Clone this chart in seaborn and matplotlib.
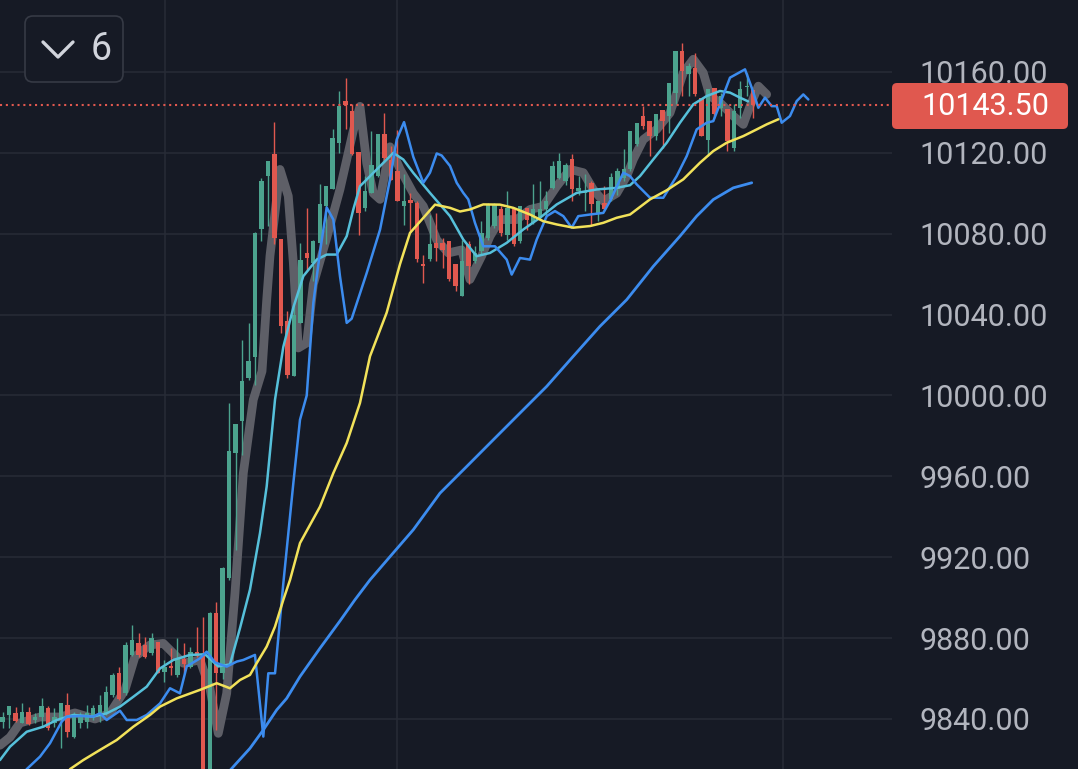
import matplotlib.pyplot as plt
import seaborn as sns
import pandas as pd
from matplotlib.patches import FancyBboxPatch
from matplotlib.lines import Line2D
from matplotlib.transforms import IdentityTransform

# ---- candles, one per bar index (0..116) ----
opens = [9838.7, 9842.0, 9843.1, 9838.2, 9843.6, 9839.5, 9840.8, 9845.3, 9837.9, 9840.3,
         9846.9, 9831.3, 9837.9, 9838.7, 9841.0, 9842.8, 9842.8, 9851.9, 9862.6, 9852.7,
         9871.7, 9877.8, 9876.6, 9872.5, 9878.3, 9863.4, 9866.2, 9861.8, 9869.5, 9865.6,
         9873.3, 9871.7, 9806.0, 9892.3, 9862.6, 9909.6, 9971.5, 9987.2, 10008.6, 10019.0,
         10082.1, 10108.5, 10119.6, 10077.5, 10036.7, 10009.5, 10035.9, 10070.6, 10065.6, 10075.5,
         10093.7, 10101.9, 10125.0, 10145.5, 10140.6, 10120.3, 10092.8, 10100.2, 10108.4, 10129.1,
         10116.7, 10110.9, 10093.6, 10096.9, 10095.3, 10064.8, 10067.3, 10075.5, 10075.5, 10076.3,
         10064.8, 10049.1, 10074.7, 10066.4, 10071.4, 10078.0, 10083.8, 10092.0, 10079.6, 10092.0,
         10076.3, 10092.8, 10085.4, 10087.9, 10092.0, 10102.7, 10107.7, 10106.0, 10116.8, 10101.1,
         10100.2, 10105.2, 10090.3, 10095.3, 10097.0, 10102.0, 10107.7, 10111.8, 10124.2, 10138.2,
         10135.7, 10128.3, 10141.2, 10138.2, 10149.7, 10170.4, 10158.8, 10162.1, 10147.3, 10126.6,
         10152.2, 10142.1, 10141.5, 10122.5, 10142.3, 10152.4, 10150.9]
highs = [9843.6, 9846.4, 9845.8, 9847.7, 9846.1, 9843.0, 9850.2, 9846.4, 9845.3, 9847.7,
         9852.7, 9843.6, 9843.6, 9846.9, 9847.0, 9851.9, 9856.3, 9862.6, 9865.9, 9878.3,
         9886.5, 9882.4, 9880.7, 9882.4, 9878.3, 9869.2, 9875.0, 9879.9, 9877.5, 9875.8,
         9885.7, 9890.6, 9893.0, 9898.1, 9915.0, 9996.2, 9986.0, 10027.6, 10035.9, 10081.0,
         10107.7, 10115.9, 10135.4, 10077.5, 10041.7, 10045.0, 10075.5, 10092.8, 10077.0, 10104.4,
         10103.5, 10132.0, 10150.6, 10157.0, 10144.0, 10120.3, 10108.4, 10130.7, 10129.1, 10139.8,
         10123.3, 10131.5, 10109.3, 10100.0, 10096.0, 10069.7, 10089.5, 10090.3, 10078.0, 10076.3,
         10064.8, 10077.1, 10076.3, 10073.8, 10086.2, 10095.3, 10095.3, 10093.6, 10101.0, 10092.8,
         10093.6, 10092.8, 10104.4, 10106.0, 10101.0, 10116.0, 10120.0, 10115.0, 10119.2, 10108.5,
         10109.3, 10106.0, 10096.1, 10103.5, 10110.0, 10112.5, 10121.7, 10131.0, 10135.0, 10143.1,
         10135.7, 10139.0, 10141.2, 10154.7, 10170.4, 10174.5, 10164.6, 10169.5, 10147.3, 10151.4,
         10152.2, 10149.7, 10141.5, 10144.0, 10155.5, 10159.6, 10150.9]
lows = [9835.4, 9835.4, 9838.7, 9837.8, 9837.0, 9838.0, 9836.2, 9834.6, 9836.2, 9825.5,
        9831.3, 9830.4, 9835.4, 9835.4, 9839.5, 9838.7, 9842.0, 9851.0, 9849.4, 9851.9,
        9871.2, 9870.9, 9870.0, 9871.7, 9862.6, 9858.5, 9861.8, 9861.0, 9862.6, 9865.1,
        9870.5, 9795.0, 9795.0, 9834.6, 9860.0, 9908.8, 9923.6, 9970.7, 10007.8, 10005.0,
        10076.3, 10083.7, 10074.7, 10030.9, 10008.7, 10009.5, 10035.9, 10062.3, 10056.5, 10073.8,
        10074.7, 10101.9, 10120.0, 10132.0, 10119.0, 10079.6, 10091.1, 10100.2, 10108.0, 10116.7,
        10106.8, 10096.1, 10084.5, 10081.3, 10066.0, 10055.7, 10066.4, 10066.4, 10063.1, 10056.6,
        10051.6, 10049.1, 10054.9, 10065.6, 10069.7, 10077.1, 10082.9, 10078.8, 10077.1, 10073.8,
        10075.5, 10082.0, 10084.6, 10087.0, 10087.9, 10101.9, 10106.9, 10104.0, 10096.1, 10099.4,
        10091.2, 10083.8, 10086.2, 10091.0, 10096.0, 10099.0, 10106.0, 10111.0, 10123.4, 10131.6,
        10118.4, 10126.6, 10122.5, 10130.0, 10144.0, 10148.1, 10148.1, 10148.1, 10128.3, 10118.4,
        10137.4, 10138.2, 10120.9, 10120.9, 10137.4, 10148.1, 10137.4]
closes = [9841.2, 9846.4, 9839.2, 9843.5, 9837.5, 9841.1, 9846.4, 9835.4, 9841.2, 9847.7,
          9833.7, 9841.2, 9841.2, 9842.8, 9845.3, 9846.9, 9853.5, 9861.8, 9849.7, 9876.6,
          9879.1, 9871.7, 9870.9, 9879.9, 9862.9, 9865.6, 9865.1, 9869.5, 9867.2, 9873.3,
          9871.2, 9805.0, 9892.3, 9862.6, 9914.6, 9972.3, 9986.0, 10007.0, 10017.2, 10080.4,
          10106.0, 10115.9, 10078.0, 10034.3, 10010.3, 10040.0, 10067.2, 10068.1, 10076.3, 10094.5,
          10103.5, 10127.5, 10143.2, 10143.5, 10119.2, 10090.3, 10101.0, 10114.2, 10129.1, 10117.5,
          10106.8, 10096.1, 10096.1, 10095.3, 10067.3, 10064.0, 10074.7, 10073.0, 10072.2, 10057.4,
          10054.1, 10066.4, 10064.0, 10070.5, 10080.4, 10094.5, 10094.5, 10080.4, 10092.8, 10074.7,
          10093.6, 10087.0, 10092.0, 10092.0, 10096.1, 10113.5, 10115.9, 10114.0, 10101.9, 10102.7,
          10101.1, 10094.5, 10096.1, 10092.0, 10108.0, 10111.0, 10111.8, 10130.8, 10134.9, 10133.2,
          10128.3, 10139.0, 10135.7, 10154.7, 10170.4, 10160.5, 10162.9, 10148.9, 10128.3, 10151.4,
          10139.0, 10148.1, 10125.8, 10140.7, 10151.4, 10153.2, 10143.5]

last_price = 10143.50

# ---- indicator lines: (bar index, price) ----
gray_pts = [(-0.42, 9827), (1.13, 9831), (2.67, 9838), (5.77, 9841), (8.86, 9841), (11.17, 9843),
            (14.27, 9840), (16.58, 9842.8), (18.9, 9854.4), (20.45, 9870.9), (22.77, 9876.6),
            (24.82, 9877.4), (27.91, 9867.6), (30.49, 9869.2), (32.04, 9855), (33.32, 9832.9),
            (34.62, 9852.7), (35.9, 9902.2), (37.19, 9961.6), (38.73, 9997.9), (40.08, 10012),
            (40.8, 10047), (41.31, 10069), (42.86, 10111.8), (44.14, 10098.6), (44.92, 10065.6),
            (45.69, 10023.5), (46.99, 10026), (48.01, 10055), (50.08, 10078), (52.13, 10102),
            (54.19, 10131), (55.22, 10143), (56.26, 10115), (57.28, 10100), (58.32, 10097),
            (59.86, 10123), (61.41, 10112), (63.46, 10100), (65.01, 10093.6), (67.08, 10077),
            (68.87, 10070.5), (70.94, 10072), (72.22, 10057.4), (74.03, 10069), (75.32, 10078.8),
            (76.86, 10087), (79.44, 10087), (81.5, 10092), (83.55, 10093.6), (85.63, 10103.5),
            (87.68, 10111.8), (89.74, 10110.2), (91.28, 10101.9), (92.83, 10096.1), (94.9, 10100),
            (96.45, 10108.5), (97.47, 10116.8), (99.01, 10126.6), (101.08, 10131.6),
            (103.14, 10139.8), (105.19, 10159.6), (106.74, 10166.3), (108.28, 10159.6),
            (109.32, 10148.1), (110.87, 10144.8), (112.92, 10138.2), (114.47, 10134.1),
            (115.5, 10143.1), (116.79, 10153), (118.08, 10148.9)]

cyan_pts = [(-0.42, 9819.7), (1.13, 9826.3), (3.71, 9833.7), (6.28, 9836.2), (8.35, 9839.5),
            (10.91, 9842), (14.0, 9841.2), (16.07, 9842.8), (18.13, 9846.1), (20.19, 9851),
            (22.26, 9856), (24.31, 9865), (26.37, 9869.2), (28.95, 9871.7), (31.27, 9872),
            (33.32, 9866), (35.13, 9867), (36.68, 9885), (38.22, 9904), (39.77, 9932),
            (40.8, 9955), (42.09, 9998), (43.37, 10024), (44.92, 10043.5), (46.46, 10059),
            (48.53, 10067.2), (50.08, 10069.7), (51.62, 10069.7), (53.17, 10078.8), (54.19, 10092),
            (55.22, 10103.5), (57.28, 10110.1), (59.35, 10116.7), (60.37, 10120), (61.92, 10116.7),
            (63.46, 10110.1), (66.04, 10100.2), (69.14, 10088.7), (71.19, 10077.1),
            (73.25, 10068.9), (75.32, 10070.5), (77.9, 10075.5), (80.46, 10082.1),
            (83.04, 10087.9), (85.63, 10094.5), (88.72, 10100.2), (91.81, 10101.9),
            (94.9, 10102.7), (96.96, 10104), (98.5, 10108.5), (100.56, 10116.8), (102.63, 10125),
            (104.68, 10134.9), (106.74, 10144), (108.81, 10148.1), (110.87, 10150.6),
            (112.41, 10149.8), (113.96, 10147.3), (115.19, 10145.5)]

blue_pts = [(2.98, 9810), (3.71, 9815.2), (5.77, 9821.4), (7.31, 9828), (9.12, 9838.7),
            (9.89, 9841.2), (11.95, 9841.5), (14.0, 9841.2), (15.04, 9842.8), (16.07, 9839.5),
            (18.13, 9844.1), (19.17, 9839.5), (20.71, 9839.5), (22.26, 9842), (24.31, 9847.7),
            (25.86, 9855.2), (27.4, 9852.7), (28.44, 9866), (30.49, 9870), (31.53, 9873.3),
            (32.81, 9868), (34.62, 9865.9), (36.17, 9868.4), (37.19, 9869.2), (38.99, 9871.7),
            (40.28, 9831.3), (41.05, 9862.6), (42.09, 9862.6), (43.37, 9907), (44.92, 9956.6),
            (45.95, 9988), (46.99, 10000), (48.01, 10045.8), (49.04, 10071), (50.08, 10093),
            (51.1, 10087), (52.13, 10059), (53.17, 10035.9), (53.94, 10038), (56.26, 10060.6),
            (58.32, 10082), (59.86, 10106.8), (60.9, 10126.6), (62.03, 10135.2), (63.46, 10118),
            (65.01, 10105.2), (66.04, 10110.2), (67.08, 10119.7), (67.85, 10118.7),
            (69.14, 10113.5), (70.17, 10105.2), (71.19, 10100.2), (71.96, 10097), (72.99, 10085.4),
            (74.28, 10073.8), (76.09, 10073.8), (77.9, 10067.2), (78.67, 10059.8), (79.95, 10068),
            (81.5, 10067.2), (82.53, 10077.1), (84.08, 10088.7), (85.36, 10091.2),
            (86.65, 10088.7), (87.94, 10083), (88.96, 10088.7), (90.77, 10089.5),
            (92.83, 10090.3), (93.86, 10096.1), (95.92, 10110.2), (96.96, 10108.5),
            (97.99, 10104.4), (100.05, 10097.8), (102.1, 10097.8), (104.17, 10108.5),
            (105.72, 10118.4), (107.26, 10131.6), (108.81, 10134.9), (109.83, 10135.7),
            (111.13, 10146.4), (112.41, 10157.2), (114.73, 10161.3), (115.77, 10152.2),
            (116.79, 10142.3), (117.82, 10147.3), (118.86, 10143.1), (119.63, 10143.1),
            (120.4, 10134.9), (121.68, 10138.2), (122.72, 10145.6), (123.74, 10148.9),
            (124.52, 10146.4)]

yellow_pts = [(10.4, 9815.2), (12.46, 9819.7), (15.04, 9824.7), (17.62, 9829.6), (20.19, 9836.2),
              (22.77, 9842), (24.31, 9846.1), (26.89, 9850.2), (30.49, 9854.4), (33.08, 9857.7),
              (35.13, 9855.2), (36.68, 9859.3), (38.22, 9861.8), (39.26, 9867.6), (40.8, 9875.8),
              (42.09, 9885.7), (43.37, 9898.9), (44.41, 9908.8), (45.95, 9927), (49.04, 9945),
              (51.1, 9961.6), (53.17, 9976.5), (55.22, 9996.3), (56.77, 10019.4), (59.35, 10041),
              (61.41, 10065), (62.95, 10080.4), (64.5, 10086), (66.82, 10094.4), (69.14, 10092.8),
              (70.68, 10091), (72.22, 10092), (74.28, 10094.5), (76.86, 10094.4),
              (78.92, 10092.8), (81.5, 10089.5), (83.55, 10086.2), (85.63, 10084.6),
              (88.19, 10083), (90.77, 10083.8), (92.83, 10085.4), (94.9, 10087.9),
              (96.96, 10089.5), (100.05, 10097), (102.63, 10101.5), (105.19, 10106.9),
              (107.77, 10115.1), (109.83, 10120.9), (111.9, 10125), (114.47, 10128.3),
              (116.54, 10131.6), (118.08, 10134.1), (119.88, 10136.6)]

slow_pts = [(33.89, 9810), (35.64, 9816.4), (38.22, 9825.5), (40.28, 9834.6), (42.35, 9844.5),
            (43.89, 9850.2), (45.95, 9861), (49.04, 9875), (52.13, 9888.5), (54.45, 9899),
            (56.77, 9908.8), (59.86, 9920.3), (63.46, 9933.6), (67.59, 9951.7), (71.72, 9964.9),
            (75.83, 9978.1), (79.95, 9991.3), (84.08, 10004.5), (88.19, 10019.4),
            (92.31, 10034.2), (96.45, 10047.4), (100.56, 10063.9), (104.68, 10078.8),
            (107.26, 10088.7), (109.83, 10096.9), (112.92, 10102.7), (115.77, 10105.2)]

# time separators (bar index)
vgrid_at = [25.08, 60.94, 120.6]
price_ticks = list(range(9840, 10161, 40))

bg = '#161a25'
grid_c = '#272b37'
up_c = '#4ca38e'
down_c = '#e0584f'
label_c = '#b2b5be'

sns.set_theme(style="dark", rc={"axes.facecolor": bg, "figure.facecolor": bg})
plt.rcParams['font.family'] = ['Roboto', 'DejaVu Sans']

W, H = 1078, 769
fig = plt.figure(figsize=(W / 100, H / 100), dpi=100)
ax = fig.add_axes([0, 0, 892 / W, 1])
ax.set_facecolor(bg)

df = pd.DataFrame({"open": opens, "high": highs, "low": lows, "close": closes})
df["i"] = range(len(df))
df["color"] = [up_c if c >= o else down_c for o, c in zip(df["open"], df["close"])]
df["bottom"] = df[["open", "close"]].min(axis=1)
df["body"] = (df["close"] - df["open"]).abs().clip(lower=0.7)

# grid
for gx in vgrid_at:
    ax.axvline(gx, color=grid_c, lw=1.1, zorder=0)
for gy in price_ticks:
    ax.axhline(gy, color=grid_c, lw=1.1, zorder=0)

# thick grey average sits under the candles
gx_, gy_ = zip(*gray_pts)
sns.lineplot(x=list(gx_), y=list(gy_), ax=ax, color='#5e5f67', linewidth=6.3,
             sort=False, estimator=None, zorder=2, solid_capstyle='round', solid_joinstyle='round')

ax.vlines(df["i"], df["low"], df["high"], colors=df["color"], lw=1.0, zorder=3)
ax.bar(df["i"], df["body"], bottom=df["bottom"], width=0.68, color=df["color"],
       linewidth=0, zorder=3)

for pts, col, lw in [(cyan_pts, '#56c0da', 1.8), (blue_pts, '#3c8cef', 1.8),
                     (yellow_pts, '#f2e25a', 1.8), (slow_pts, '#3c8cef', 2.0)]:
    xs, ys = zip(*pts)
    sns.lineplot(x=list(xs), y=list(ys), ax=ax, color=col, linewidth=lw,
                 sort=False, estimator=None, zorder=4)

ax.axhline(last_price, color=down_c, lw=1.5, linestyle=(0, (1, 1.8)), zorder=5)

ax.set_xlim(-0.417, 137.45)
ax.set_ylim(9815.27, 10195.6)
ax.set_xticks([])
ax.set_yticks(price_ticks)
ax.set_yticklabels([f"{v:.2f}" for v in price_ticks])
ax.yaxis.tick_right()
ax.tick_params(axis='y', length=0, pad=20, labelsize=22, labelcolor=label_c)
ax.grid(False)
for s in ax.spines.values():
    s.set_visible(False)
ax.set_xlabel("")
ax.set_ylabel("")

# partly visible top label
ax.text(1 + 27.8 / 892, 10200, "10200.00", transform=ax.get_yaxis_transform(),
        ha='left', va='center', fontsize=22, color=label_c, clip_on=False)

px = IdentityTransform()
# last price tag
fig.add_artist(FancyBboxPatch((892, H - 129), 176, 46, boxstyle="round,pad=0,rounding_size=5",
                              facecolor=down_c, edgecolor='none', transform=px))
fig.text(921, H - 106.5, f"{last_price:.2f}", transform=px, ha='left', va='center',
         fontsize=22, color='white')

# collapse button
fig.add_artist(FancyBboxPatch((25, H - 82), 98, 66, boxstyle="round,pad=0,rounding_size=8",
                              facecolor=bg, edgecolor='#363a45', lw=1.2, transform=px))
fig.add_artist(Line2D([43, 58, 73], [H - 42, H - 57, H - 42], color='#d1d4dc', lw=2.4,
                      transform=px, solid_capstyle='round', solid_joinstyle='round'))
fig.text(91, H - 49, "6", transform=px, ha='left', va='center', fontsize=27, color='#d1d4dc')

fig.savefig("out.png", dpi=100, facecolor=bg)
